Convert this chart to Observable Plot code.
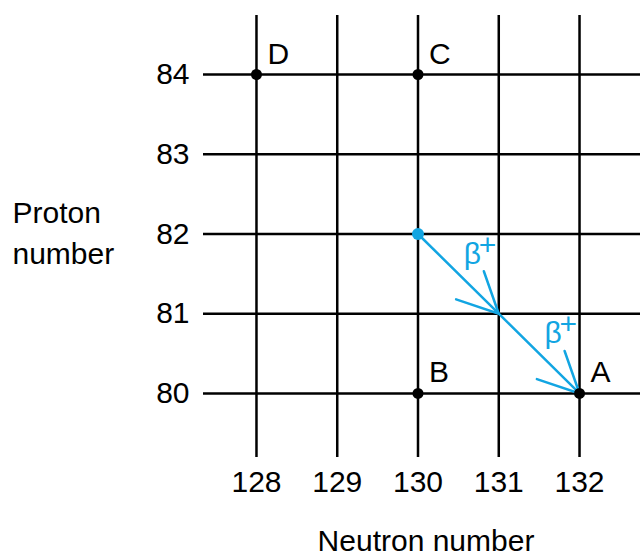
<!DOCTYPE html>
<html><head><meta charset="utf-8">
<script src="https://cdn.jsdelivr.net/npm/d3@7"></script>
<script src="https://cdn.jsdelivr.net/npm/@observablehq/plot@0.6"></script>
<style>body{margin:0;background:#fff}</style>
</head><body><div id="chart"></div>
<script>
const neutronTicks = [128, 129, 130, 131, 132];
const protonTicks = [80, 81, 82, 83, 84];
const nuclideNames = ["D", "C", "B", "A"];
const nuclideN = [128, 130, 130, 132];
const nuclideZ = [84, 84, 80, 80];
const decayN = [130, 131, 132];
const decayZ = [82, 81, 80];
const decaySymbol = "β";
const decaySign = "+";
const xTitle = "Neutron number";
const yTitle = "Proton number";

const blue = "#12a5e2";
const font = "Liberation Sans, Arial, Helvetica, sans-serif";

const W = 640, H = 552, mL = 203, mR = 0, mT = 15, mB = 95;
const xDomain = [127.344, 132.755];
const yDomain = [79.197, 84.740];
const kx = (W - mL - mR) / (xDomain[1] - xDomain[0]);
const ky = (H - mT - mB) / (yDomain[1] - yDomain[0]);

const nuclides = nuclideNames.map((name, i) => ({name, n: nuclideN[i], z: nuclideZ[i]}));
const decayPath = decayN.map((n, i) => ({n, z: decayZ[i]}));
const tips = decayPath.slice(1).map((p, i) => {
  const prev = decayPath[i];
  const dxp = (p.n - prev.n) * kx, dyp = -(p.z - prev.z) * ky;
  return {n: p.n, z: p.z, angle: Math.atan2(dxp, -dyp) * 180 / Math.PI};
});
const parent = decayPath.slice(0, 1);

// open "V" arrowhead whose point sits on the vector's anchor
const headHalfAngle = 26 * Math.PI / 180, headLen = 45;
const vHead = {
  draw(context) {
    const sx = headLen * Math.sin(headHalfAngle), sy = headLen * Math.cos(headHalfAngle);
    context.moveTo(-sx, sy);
    context.lineTo(0, 0);
    context.lineTo(sx, sy);
  }
};

const chart = Plot.plot({
  width: W,
  height: H,
  marginLeft: mL,
  marginRight: mR,
  marginTop: mT,
  marginBottom: mB,
  style: {fontFamily: font, background: "#fff", color: "#000"},
  x: {domain: xDomain, label: null},
  y: {domain: yDomain, label: null},
  marks: [
    Plot.ruleX(neutronTicks, {stroke: "#000", strokeWidth: 2.5}),
    Plot.ruleY(protonTicks, {stroke: "#000", strokeWidth: 2.5}),
    Plot.axisX({ticks: neutronTicks, tickSize: 0, tickPadding: 13, fontSize: 30, label: null, tickFormat: d => String(d)}),
    Plot.axisY({ticks: protonTicks, tickSize: 0, tickPadding: 14, fontSize: 30, label: null, tickFormat: d => String(d)}),
    Plot.line(decayPath, {x: "n", y: "z", stroke: blue, strokeWidth: 2.5}),
    Plot.vector(tips, {x: "n", y: "z", length: 0, rotate: "angle", shape: vHead, stroke: blue, strokeWidth: 2.5, strokeLinecap: "round", strokeLinejoin: "miter"}),
    Plot.dot(nuclides, {x: "n", y: "z", r: 5.5, fill: "#000", stroke: null}),
    Plot.dot(parent, {x: "n", y: "z", r: 6, fill: blue, stroke: null}),
    Plot.text(nuclides, {x: "n", y: "z", text: "name", textAnchor: "start", lineAnchor: "bottom", dx: 11, dy: -11, fontSize: 30, fill: "#000"}),
    Plot.text(tips, {x: "n", y: "z", text: () => decaySymbol, textAnchor: "start", lineAnchor: "bottom", dx: -35, dy: -50, fontSize: 30, fill: blue}),
    Plot.text(tips, {x: "n", y: "z", text: () => decaySign, textAnchor: "start", lineAnchor: "bottom", dx: -20, dy: -59, fontSize: 30, fill: blue}),
    Plot.text([xTitle], {frameAnchor: "bottom", text: d => d, textAnchor: "middle", lineAnchor: "bottom", dx: 4, dy: 93, fontSize: 30, fill: "#000"}),
    Plot.text([yTitle.replace(" ", "\n")], {frameAnchor: "top-left", text: d => d, textAnchor: "start", lineAnchor: "top", dx: -191, dy: 178, fontSize: 30, lineHeight: 1.37, fill: "#000"})
  ]
});
document.getElementById("chart").appendChild(chart);
</script>
</body></html>
